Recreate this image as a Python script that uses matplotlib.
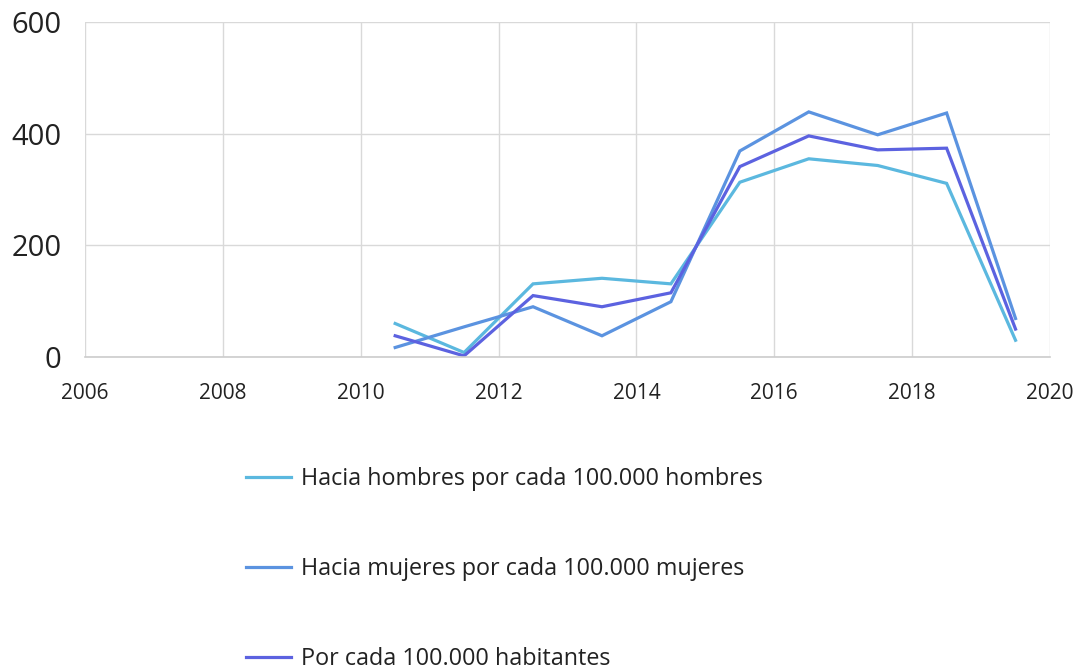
#!/usr/bin/env python3
"""Tasas por cada 100.000: hombres, mujeres y habitantes (2010-2019)."""
import matplotlib
matplotlib.use('Agg')
import matplotlib.pyplot as plt

years = [2010.5, 2011.5, 2012.5, 2013.5, 2014.5, 2015.5, 2016.5, 2017.5, 2018.5, 2019.5]
hombres = [60, 8, 131, 141, 131, 313, 355, 343, 311, 30]
mujeres = [17, 54, 90, 38, 99, 369, 439, 398, 437, 69]
habitantes = [38, 2, 110, 90, 115, 341, 396, 371, 374, 50]

labels = ['Hacia hombres por cada 100.000 hombres',
          'Hacia mujeres por cada 100.000 mujeres',
          'Por cada 100.000 habitantes']
colors = ['#5bb8df', '#5b93e0', '#5c62e0']
xticks = list(range(2006, 2021, 2))
yticks = [0, 200, 400, 600]

plt.rcParams['font.family'] = ['Open Sans', 'DejaVu Sans']

fig = plt.figure(figsize=(10.81, 6.70), dpi=100)
ax = fig.add_axes([85/1081, 1-357/670, (1050-85)/1081, (357-22)/670])

for vals, lab, c in zip([hombres, mujeres, habitantes], labels, colors):
    ax.plot(years, vals, color=c, lw=2.3, label=lab, solid_joinstyle='miter')

ax.set_xlim(2006, 2020)
ax.set_ylim(0, 600)
ax.set_xticks(xticks)
ax.set_yticks(yticks)
ax.set_xticklabels([str(x) for x in xticks], fontsize=15)
ax.set_yticklabels([str(y) for y in yticks], fontsize=21)
ax.tick_params(axis='x', length=0, pad=19, colors='#222222')
ax.tick_params(axis='y', length=0, pad=17, colors='#222222')
ax.grid(True, color='#d9d9d9', lw=1)
ax.set_axisbelow(True)
for s in ['top', 'right', 'left']:
    ax.spines[s].set_visible(False)
ax.spines['bottom'].set_color('#cccccc')
ax.spines['bottom'].set_linewidth(1.2)

leg = ax.legend(loc='upper left', bbox_to_anchor=(225/1081, 1-446/670),
                bbox_transform=fig.transFigure, frameon=False, fontsize=16.8,
                handlelength=1.93, handletextpad=0.43, labelspacing=2.83)
for t in leg.get_texts():
    t.set_color('#222222')

fig.savefig('out.png', dpi=100)
